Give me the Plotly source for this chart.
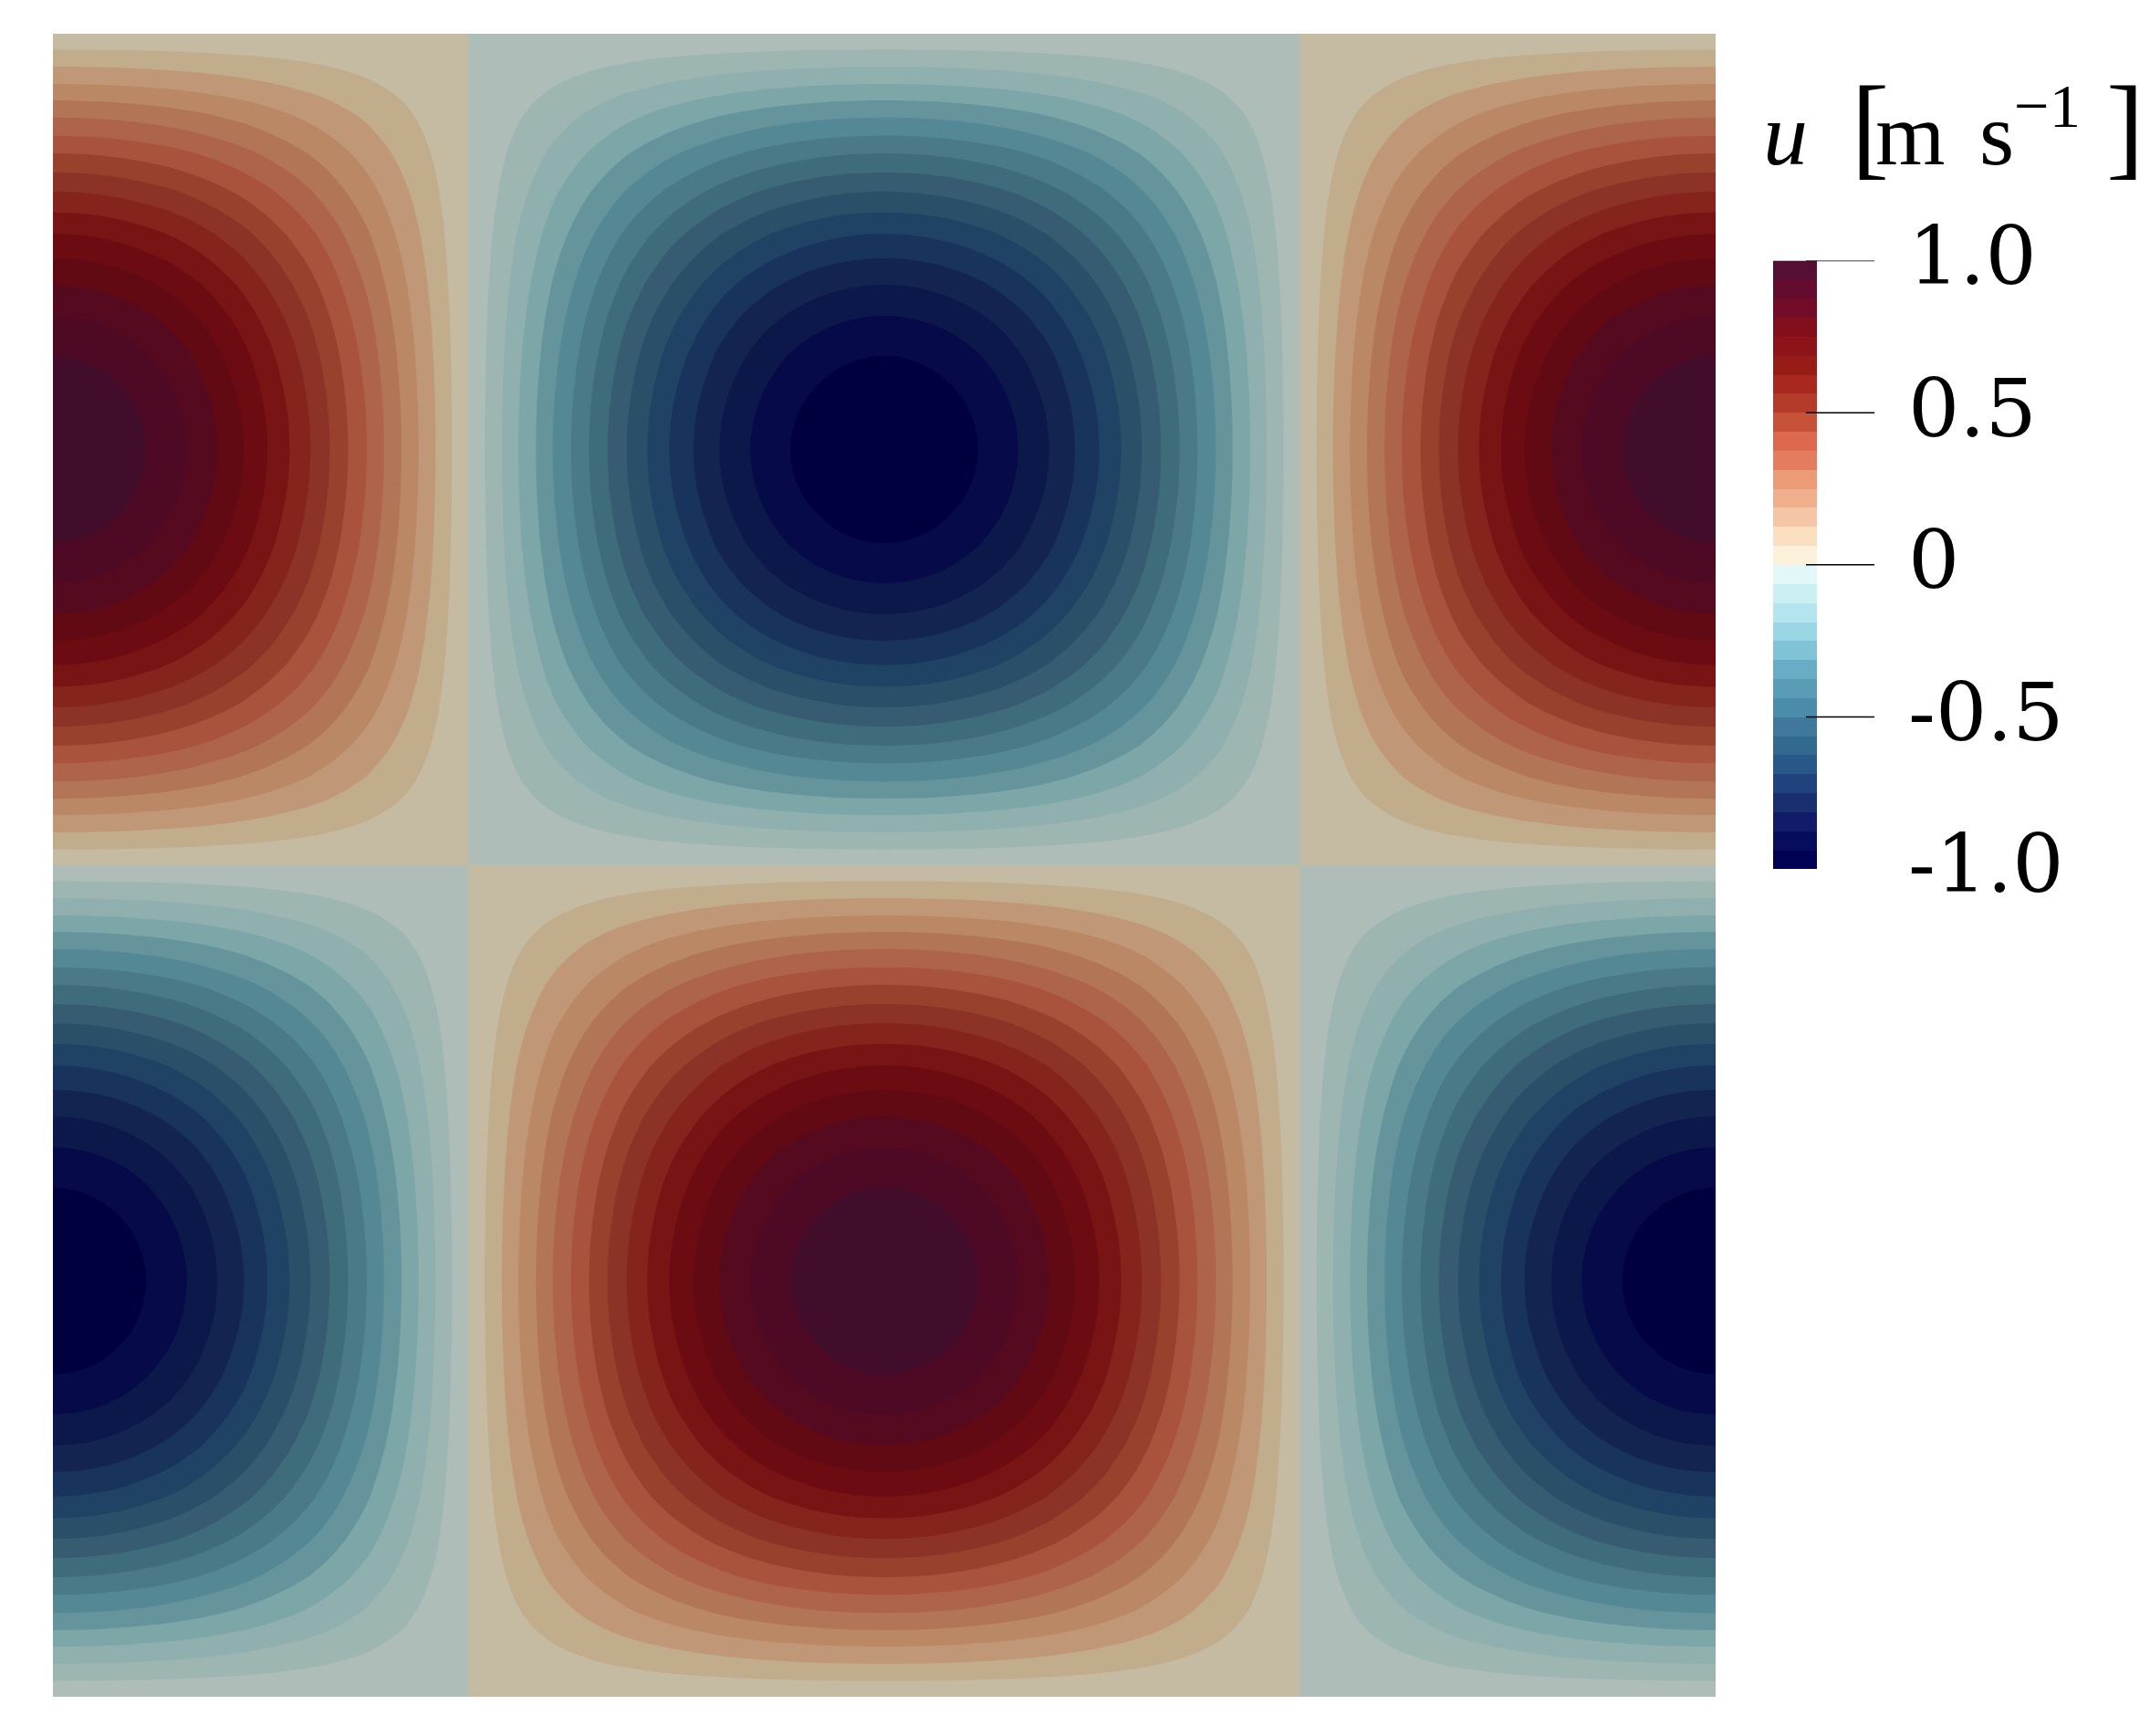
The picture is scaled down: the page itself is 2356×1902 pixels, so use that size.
import numpy as np
import plotly.graph_objects as go

X_HALF_POS = [0, .0159, .0296, .0434, .0561, .0692, .0805, .0900, .0988, .1149, .1290, .1423, .1549,
              .1665, .1775, .1888, .1991, .2097, .2199, .2301, .2400, .2495, .2500, .2505,
              .2598, .2700, .2799, .2905, .3006, .3116, .3224, .3336, .3451, .3575, .3707, .3853,
              .4008, .4100, .4195, .4308, .4435, .4566, .4704, .4841, .5]
X_HALF_VAL = [1, .995, .983, .963, .9375, .907, .875, .844, .8125, .75, .6875, .625, .5625,
              .5, .4375, .375, .3125, .25, .1875, .125, .0625, .0031, 0, -.0031,
              -.0625, -.125, -.1875, -.25, -.3125, -.375, -.4375, -.5, -.5625, -.625, -.6875, -.75,
              -.8125, -.844, -.875, -.907, -.9375, -.963, -.983, -.995, -1]

# profile along y from the top edge, down to the horizontal zero line
Y_HALF_POS = [0, .0005, .0095, .0198, .0302, .0401, .0503, .0613, .0719, .0834, .0950, .1074, .1204, .1350,
              .1509, .1603, .1696, .1811, .1936, .2075, .2212, .2344, .25,
              .2656, .2788, .2925, .3064, .3189, .3304, .3397, .3491, .3650, .3796, .3926, .4050,
              .4166, .4281, .4387, .4497, .4599, .4698, .4802, .4905, .4995, .5]
Y_HALF_VAL = [0, .0031, .0625, .125, .1875, .25, .3125, .375, .4375, .5, .5625, .625, .6875, .75,
              .8125, .844, .875, .907, .9375, .963, .983, .995, 1,
              .995, .983, .963, .9375, .907, .875, .844, .8125, .75, .6875, .625, .5625,
              .5, .4375, .375, .3125, .25, .1875, .125, .0625, .0031, 0]

# band colours in the field, -1 to +1
FIELD_COLORS = [
    "rgb(0,0,62)", "rgb(6,10,72)", "rgb(13,24,74)", "rgb(20,36,80)", "rgb(24,52,92)", "rgb(32,66,100)",
    "rgb(42,80,105)", "rgb(55,92,113)", "rgb(62,108,122)", "rgb(74,122,135)", "rgb(84,136,148)",
    "rgb(101,148,156)", "rgb(124,166,168)", "rgb(144,176,176)", "rgb(158,182,178)", "rgb(175,189,184)",
    "rgb(197,187,163)", "rgb(193,172,139)", "rgb(192,152,120)", "rgb(186,136,101)", "rgb(178,117,86)",
    "rgb(174,100,74)", "rgb(170,83,60)", "rgb(152,65,45)", "rgb(140,50,38)", "rgb(132,36,28)",
    "rgb(120,20,20)", "rgb(108,12,18)", "rgb(98,10,20)", "rgb(85,10,32)", "rgb(78,10,36)", "rgb(66,13,42)",
]

# the colour bar is brighter than the field
BAR_COLORS = [
    "rgb(0,0,85)", "rgb(8,12,92)", "rgb(16,28,105)", "rgb(24,48,112)", "rgb(32,66,125)", "rgb(40,88,135)",
    "rgb(50,105,140)", "rgb(64,120,155)", "rgb(75,140,170)", "rgb(90,155,182)", "rgb(104,172,198)",
    "rgb(128,194,214)", "rgb(155,214,228)", "rgb(180,228,238)", "rgb(202,240,243)", "rgb(225,247,248)",
    "rgb(252,242,220)", "rgb(250,224,192)", "rgb(245,198,165)", "rgb(240,175,140)", "rgb(236,155,120)",
    "rgb(228,125,95)", "rgb(220,105,78)", "rgb(198,82,58)", "rgb(180,58,42)", "rgb(168,40,32)",
    "rgb(152,28,22)", "rgb(140,20,25)", "rgb(130,14,28)", "rgb(115,12,40)", "rgb(100,12,45)", "rgb(86,15,52)",
]

TICK_VALUES = [1.0, 0.5, 0, -0.5, -1.0]
TICK_LABELS = ["1.0", "0.5", "0", "-0.5", "-1.0"]
TICKS_DRAWN = [1.0, 0.5, 0, -0.5]
LEVEL_STEP = 1 / 16

W, H = 2356, 1902


def main():
    # second half of each profile mirrors the first
    x_pos = X_HALF_POS + [1 - p for p in X_HALF_POS[-2::-1]]
    x_val = X_HALF_VAL + X_HALF_VAL[-2::-1]
    y_pos = Y_HALF_POS + [0.5 + p for p in Y_HALF_POS[1:]]
    y_val = Y_HALF_VAL + [-v for v in Y_HALF_VAL[1:]]
    z = np.outer(y_val, x_val)

    fig = go.Figure()
    fig.add_trace(go.Contour(
        x=x_pos, y=y_pos, z=z, xaxis="x", yaxis="y",
        autocontour=False,
        contours=dict(start=-1 + LEVEL_STEP, end=1 - LEVEL_STEP, size=LEVEL_STEP,
                      coloring="fill", showlines=False),
        line=dict(width=0),
        colorscale=[[i / 31, c] for i, c in enumerate(FIELD_COLORS)],
        showscale=False, hoverinfo="skip",
    ))

    n = len(BAR_COLORS)
    bar_scale = []
    for i, c in enumerate(BAR_COLORS):
        bar_scale += [[i / n, c], [(i + 1) / n, c]]
    bar_mid = [-1 + (i + 0.5) * LEVEL_STEP for i in range(n)]
    fig.add_trace(go.Heatmap(
        x=[0], y=bar_mid, z=[[v] for v in bar_mid], xaxis="x2", yaxis="y2",
        zmin=-1, zmax=1, colorscale=bar_scale, showscale=False, hoverinfo="skip",
    ))

    for v in TICKS_DRAWN:
        fig.add_shape(type="line", xref="paper", yref="y2", x0=1979 / W, x1=2054 / W, y0=v, y1=v,
                      line=dict(color="black", width=1.5))

    for v, label in zip(TICK_VALUES, TICK_LABELS):
        fig.add_annotation(xref="paper", yref="y2", x=2089 / W, y=v, yshift=5, text=label,
                           showarrow=False, xanchor="left", yanchor="middle",
                           font=dict(family="DejaVu Serif", size=88.5, color="black"))

    gap = '<span style="font-size:%dpx">&nbsp;</span>'
    title = ("<i>u</i>" + gap % 190
             + '<span style="font-size:125px;letter-spacing:-15px">[</span>'
             + "m" + gap % 150 + "s" + "<sup>−1</sup>" + gap % 112
             + '<span style="font-size:125px">]</span>')
    fig.add_annotation(xref="paper", yref="paper", x=1930 / W, y=1 - 116 / H, xanchor="left", yanchor="middle",
                       showarrow=False, text=title,
                       font=dict(family="Liberation Serif", size=98, color="black"))

    fig.update_layout(
        width=W, height=H, margin=dict(l=0, r=0, t=0, b=0),
        paper_bgcolor="white", plot_bgcolor="white", showlegend=False,
        xaxis=dict(domain=[58 / W, 1880 / W], range=[0, 1], visible=False),
        yaxis=dict(domain=[1 - 1859 / H, 1 - 37 / H], range=[1, 0], visible=False),
        xaxis2=dict(domain=[1943 / W, 1991 / W], range=[-0.5, 0.5], visible=False, anchor="y2"),
        yaxis2=dict(domain=[1 - 952 / H, 1 - 285.5 / H], range=[-1, 1], visible=False, anchor="x2"),
    )
    fig.write_html("out.html", config={"displayModeBar": False},
                   post_script="document.body.style.margin='0';")


if __name__ == "__main__":
    main()
